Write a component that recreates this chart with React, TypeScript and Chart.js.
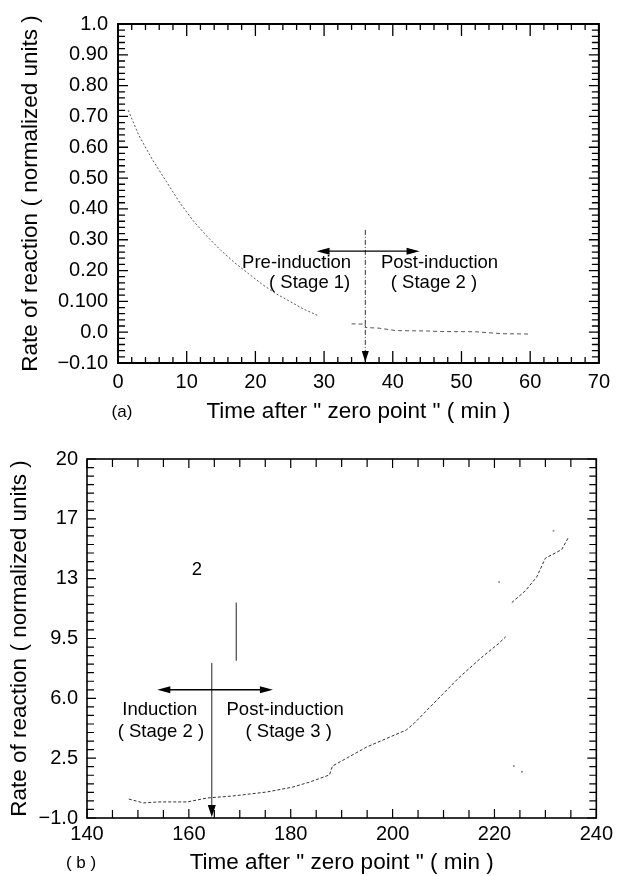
import React, { useEffect, useRef } from "react";
import { Chart, registerables } from "chart.js";

Chart.register(...registerables);

const FONT = "'Liberation Sans', Arial, Helvetica, sans-serif";
const X_TITLE = 'Time after " zero point " ( min )';
const Y_TITLE = "Rate of reaction ( normalized units )";

// ---------- Panel (a) ----------
const A_STAGE1_X = [1.5, 3, 5, 7, 9, 11, 13, 15, 17, 19, 21, 23, 25, 27, 29];
const A_STAGE1_Y = [0.72, 0.64, 0.56, 0.49, 0.42, 0.36, 0.31, 0.265, 0.225, 0.19, 0.155, 0.125, 0.1, 0.075, 0.055];
const A_STAGE2_X = [34, 35.9, 36.1, 38, 40.5, 45, 47, 52, 56, 60];
const A_STAGE2_Y = [0.027, 0.026, 0.015, 0.013, 0.005, 0.004, 0.002, 0.0015, -0.005, -0.006];
const A_X_TICKS = [0, 10, 20, 30, 40, 50, 60, 70];
const A_Y_TICKS = [-0.1, 0, 0.1, 0.2, 0.3, 0.4, 0.5, 0.6, 0.7, 0.8, 0.9, 1.0];
const A_Y_LABELS = ["\u22120.10", "0.0", "0.100", "0.20", "0.30", "0.40", "0.50", "0.60", "0.70", "0.80", "0.90", "1.0"];
const A_X_MINOR = 2;
const A_Y_MINOR = 0.02;
const A_MARKER_X = 36;
const A_MARKER_TOP = 0.332;
const A_ARROW_Y = 0.263;
const A_ARROW_FROM = 28.9;
const A_ARROW_TO = 43.9;
const A_TEXT_LABELS = ["Pre-induction", "( Stage 1)", "Post-induction", "( Stage 2 )"];
const A_TEXT_X = [26.0, 27.9, 46.8, 46.0];
const A_TEXT_Y = [0.2245, 0.16, 0.2245, 0.16];

// ---------- Panel (b) ----------
const B_MAIN_X = [148.2, 151.1, 153.9, 157.0, 159.7, 163.6, 168.7, 175.3, 180.4, 183.7, 187.6, 188.2, 194.9, 202.7, 204.3, 209.7, 213.0, 217.5, 220.8, 222.2];
const B_MAIN_Y = [0.11, -0.12, -0.06, -0.06, -0.06, 0.17, 0.29, 0.52, 0.81, 1.1, 1.52, 2.04, 3.15, 4.15, 4.56, 6.2, 7.2, 8.4, 9.2, 9.6];
const B_UPPER_X = [223.4, 226.1, 228.3, 230.0, 233.2, 234.5];
const B_UPPER_Y = [11.6, 12.3, 13.1, 14.2, 14.7, 15.4];
const B_SPECK_X = [231.6, 220.9, 223.8, 225.4];
const B_SPECK_Y = [15.8, 12.8, 2.04, 1.7];
const B_X_TICKS = [140, 160, 180, 200, 220, 240];
const B_Y_TICKS = [-1, 2.5, 6, 9.5, 13, 16.5, 20];
const B_Y_LABELS = ["\u22121.0", "2.5", "6.0", "9.5", "13", "17", "20"];
const B_X_MINOR = 5;
const B_Y_MINOR = 0.5;
const B_MARKER_X = 164.5;
const B_MARKER_TOP = 8.07;
const B_SHORT_X = 169.3;
const B_SHORT_TOP = 11.6;
const B_SHORT_BOTTOM = 8.2;
const B_ARROW_Y = 6.5;
const B_ARROW_FROM = 153.8;
const B_ARROW_TO = 176.5;
const B_TEXT_LABELS = ["2", "Induction", "( Stage 2 )", "Post-induction", "( Stage 3 )"];
const B_TEXT_X = [161.6, 154.3, 154.5, 178.9, 179.6];
const B_TEXT_Y = [13.5, 5.32, 4.03, 5.32, 4.03];

const TICK_SIZE = 20;
const TITLE_SIZE = 22.5;
const NOTE_SIZE = 18.5;

function pts(xs: number[], ys: number[]) {
  return xs.map((x, i) => ({ x, y: ys[i] }));
}

function arrowHead(ctx: CanvasRenderingContext2D, x: number, y: number, dx: number, dy: number, len: number, half: number) {
  const bx = x - dx * len;
  const by = y - dy * len;
  ctx.beginPath();
  ctx.moveTo(x, y);
  ctx.lineTo(bx - dy * half, by + dx * half);
  ctx.lineTo(bx + dy * half, by - dx * half);
  ctx.closePath();
  ctx.fill();
}

function line(ctx: CanvasRenderingContext2D, x1: number, y1: number, x2: number, y2: number) {
  ctx.beginPath();
  ctx.moveTo(x1, y1);
  ctx.lineTo(x2, y2);
  ctx.stroke();
}

type FrameOpts = {
  frameWidth: number;
  tickWidth: number;
  xMinor: number;
  yMinor: number;
  xMajorTicks: number[];
  yMajorTicks: number[];
  xMajorLen: number;
  xMinorLen: number;
  yMajorLen: number;
  yMinorLen: number;
  annotate: (ctx: CanvasRenderingContext2D, sx: any, sy: any, area: any) => void;
};

function framePlugin(o: FrameOpts) {
  return {
    id: "frameTicks",
    afterDatasetsDraw(chart: any) {
      const ctx: CanvasRenderingContext2D = chart.ctx;
      const area = chart.chartArea;
      const { left, right, top, bottom } = area;
      const sx = chart.scales.x;
      const sy = chart.scales.y;
      ctx.save();
      ctx.strokeStyle = "#000";
      ctx.lineWidth = o.tickWidth;
      ctx.beginPath();
      const nx = Math.round((sx.max - sx.min) / o.xMinor);
      for (let i = 0; i <= nx; i++) {
        const v = sx.min + i * o.xMinor;
        const major = o.xMajorTicks.some((t) => Math.abs(t - v) < 1e-6);
        const len = major ? o.xMajorLen : o.xMinorLen;
        const px = sx.getPixelForValue(v);
        ctx.moveTo(px, bottom);
        ctx.lineTo(px, bottom - len);
        ctx.moveTo(px, top);
        ctx.lineTo(px, top + len);
      }
      const ny = Math.round((sy.max - sy.min) / o.yMinor);
      for (let i = 0; i <= ny; i++) {
        const v = sy.min + i * o.yMinor;
        const major = o.yMajorTicks.some((t) => Math.abs(t - v) < 1e-6);
        const len = major ? o.yMajorLen : o.yMinorLen;
        const py = sy.getPixelForValue(v);
        ctx.moveTo(left, py);
        ctx.lineTo(left + len, py);
        ctx.moveTo(right, py);
        ctx.lineTo(right - len, py);
      }
      ctx.stroke();
      ctx.lineWidth = o.frameWidth;
      ctx.strokeRect(left, top, right - left, bottom - top);
      ctx.fillStyle = "#000";
      o.annotate(ctx, sx, sy, area);
      ctx.restore();
    },
  };
}

function axisCommon() {
  return {
    type: "linear" as const,
    grid: { display: false, drawTicks: false },
    border: { display: false },
  };
}

function buildA(): any {
  const plugin = framePlugin({
    frameWidth: 2,
    tickWidth: 1.3,
    xMinor: A_X_MINOR,
    yMinor: A_Y_MINOR,
    xMajorTicks: A_X_TICKS,
    yMajorTicks: A_Y_TICKS,
    xMajorLen: 12,
    xMinorLen: 6,
    yMajorLen: 10,
    yMinorLen: 7,
    annotate(ctx, sx, sy, area) {
      const mx = sx.getPixelForValue(A_MARKER_X);
      ctx.strokeStyle = "#333";
      ctx.lineWidth = 1;
      ctx.setLineDash([5, 2, 1, 2]);
      line(ctx, mx, sy.getPixelForValue(A_MARKER_TOP), mx, area.bottom - 8);
      ctx.setLineDash([]);
      arrowHead(ctx, mx, area.bottom - 1, 0, 1, 11, 3.5);
      const ay = sy.getPixelForValue(A_ARROW_Y);
      const x1 = sx.getPixelForValue(A_ARROW_FROM);
      const x2 = sx.getPixelForValue(A_ARROW_TO);
      ctx.strokeStyle = "#000";
      ctx.lineWidth = 1.4;
      line(ctx, x1 + 8, ay, x2 - 8, ay);
      arrowHead(ctx, x1, ay, -1, 0, 13, 3.5);
      arrowHead(ctx, x2, ay, 1, 0, 13, 3.5);
      ctx.font = `${NOTE_SIZE}px ${FONT}`;
      ctx.textAlign = "center";
      ctx.textBaseline = "middle";
      A_TEXT_LABELS.forEach((t, i) => {
        ctx.fillText(t, sx.getPixelForValue(A_TEXT_X[i]), sy.getPixelForValue(A_TEXT_Y[i]));
      });
      ctx.font = `17px ${FONT}`;
      ctx.fillText("(a)", area.left + 4, area.bottom + 49);
    },
  });
  return {
    type: "scatter",
    data: {
      datasets: [
        { data: pts(A_STAGE1_X, A_STAGE1_Y), showLine: true, pointRadius: 0, borderColor: "#555", borderWidth: 1, borderDash: [2, 2] },
        { data: pts(A_STAGE2_X, A_STAGE2_Y), showLine: true, pointRadius: 0, borderColor: "#555", borderWidth: 1, borderDash: [4, 3] },
      ],
    },
    options: {
      animation: false,
      responsive: false,
      maintainAspectRatio: false,
      events: [],
      layout: { padding: { left: 0, top: 24, right: 17, bottom: 0 } },
      plugins: { legend: { display: false }, tooltip: { enabled: false } },
      scales: {
        x: {
          ...axisCommon(),
          min: 0,
          max: 70,
          afterBuildTicks: (s: any) => { s.ticks = A_X_TICKS.map((v) => ({ value: v })); },
          afterFit: (s: any) => { s.height = 67; },
          ticks: { autoSkip: false, maxRotation: 0, padding: 7, color: "#000", font: { family: FONT, size: TICK_SIZE }, callback: (v: any) => String(v) },
          title: { display: true, text: X_TITLE, color: "#000", font: { family: FONT, size: TITLE_SIZE }, padding: { top: 0, bottom: 4.5 } },
        },
        y: {
          ...axisCommon(),
          min: -0.1,
          max: 1.0,
          afterBuildTicks: (s: any) => { s.ticks = A_Y_TICKS.map((v) => ({ value: v })); },
          afterFit: (s: any) => { s.width = 118; },
          ticks: { autoSkip: false, padding: 10, color: "#000", font: { family: FONT, size: TICK_SIZE }, callback: (_v: any, i: number) => A_Y_LABELS[i] },
          title: { display: true, text: Y_TITLE, color: "#000", font: { family: FONT, size: TITLE_SIZE }, padding: { top: 17.5, bottom: 0 } },
        },
      },
    },
    plugins: [plugin],
  };
}

function buildB(): any {
  const plugin = framePlugin({
    frameWidth: 1.6,
    tickWidth: 1.2,
    xMinor: B_X_MINOR,
    yMinor: B_Y_MINOR,
    xMajorTicks: B_X_TICKS,
    yMajorTicks: B_Y_TICKS,
    xMajorLen: 9,
    xMinorLen: 8,
    yMajorLen: 9,
    yMinorLen: 7,
    annotate(ctx, sx, sy, area) {
      const mx = sx.getPixelForValue(B_MARKER_X);
      ctx.strokeStyle = "#222";
      ctx.lineWidth = 1;
      line(ctx, mx, sy.getPixelForValue(B_MARKER_TOP), mx, area.bottom - 8);
      arrowHead(ctx, mx, area.bottom - 1, 0, 1, 12, 4);
      const sxp = sx.getPixelForValue(B_SHORT_X);
      line(ctx, sxp, sy.getPixelForValue(B_SHORT_TOP), sxp, sy.getPixelForValue(B_SHORT_BOTTOM));
      const ay = sy.getPixelForValue(B_ARROW_Y);
      const x1 = sx.getPixelForValue(B_ARROW_FROM);
      const x2 = sx.getPixelForValue(B_ARROW_TO);
      ctx.strokeStyle = "#000";
      ctx.lineWidth = 1.4;
      line(ctx, x1 + 8, ay, x2 - 8, ay);
      arrowHead(ctx, x1, ay, -1, 0, 13, 3.5);
      arrowHead(ctx, x2, ay, 1, 0, 13, 3.5);
      ctx.font = `${NOTE_SIZE}px ${FONT}`;
      ctx.textAlign = "center";
      ctx.textBaseline = "middle";
      B_TEXT_LABELS.forEach((t, i) => {
        ctx.fillText(t, sx.getPixelForValue(B_TEXT_X[i]), sy.getPixelForValue(B_TEXT_Y[i]));
      });
      ctx.font = `17px ${FONT}`;
      ctx.fillText("( b )", area.left - 6, area.bottom + 45);
    },
  });
  return {
    type: "scatter",
    data: {
      datasets: [
        { data: pts(B_MAIN_X, B_MAIN_Y), showLine: true, pointRadius: 0, borderColor: "#333", borderWidth: 1, borderDash: [3, 2] },
        { data: pts(B_UPPER_X, B_UPPER_Y), showLine: true, pointRadius: 0, borderColor: "#333", borderWidth: 1, borderDash: [3, 2] },
        { data: pts(B_SPECK_X, B_SPECK_Y), showLine: false, pointRadius: 1, borderWidth: 0, backgroundColor: "#888" },
      ],
    },
    options: {
      animation: false,
      responsive: false,
      maintainAspectRatio: false,
      events: [],
      layout: { padding: { left: 0, top: 29, right: 18, bottom: 0 } },
      plugins: { legend: { display: false }, tooltip: { enabled: false } },
      scales: {
        x: {
          ...axisCommon(),
          min: 140,
          max: 240,
          afterBuildTicks: (s: any) => { s.ticks = B_X_TICKS.map((v) => ({ value: v })); },
          afterFit: (s: any) => { s.height = 58; },
          ticks: { autoSkip: false, maxRotation: 0, padding: 4, color: "#000", font: { family: FONT, size: TICK_SIZE }, callback: (v: any) => String(v) },
          title: { display: true, text: X_TITLE, color: "#000", font: { family: FONT, size: TITLE_SIZE }, padding: { top: 0, bottom: 0 } },
        },
        y: {
          ...axisCommon(),
          min: -1,
          max: 20,
          afterBuildTicks: (s: any) => { s.ticks = B_Y_TICKS.map((v) => ({ value: v })); },
          afterFit: (s: any) => { s.width = 87; },
          ticks: { autoSkip: false, padding: 9, color: "#000", font: { family: FONT, size: TICK_SIZE }, callback: (_v: any, i: number) => B_Y_LABELS[i] },
          title: { display: true, text: Y_TITLE, color: "#000", font: { family: FONT, size: TITLE_SIZE }, padding: { top: 6.5, bottom: 0 } },
        },
      },
    },
    plugins: [plugin],
  };
}

export default function App() {
  const refA = useRef<HTMLCanvasElement>(null);
  const refB = useRef<HTMLCanvasElement>(null);
  useEffect(() => {
    const a = new Chart(refA.current!, buildA());
    const b = new Chart(refB.current!, buildB());
    return () => {
      a.destroy();
      b.destroy();
    };
  }, []);
  return (
    <div style={{ position: "absolute", left: 0, top: 0, width: 617, height: 876, background: "#fff" }}>
      <canvas ref={refA} width={617} height={430} style={{ position: "absolute", left: 0, top: 0, width: 617, height: 430 }} />
      <canvas ref={refB} width={617} height={446} style={{ position: "absolute", left: 0, top: 430, width: 617, height: 446 }} />
    </div>
  );
}
